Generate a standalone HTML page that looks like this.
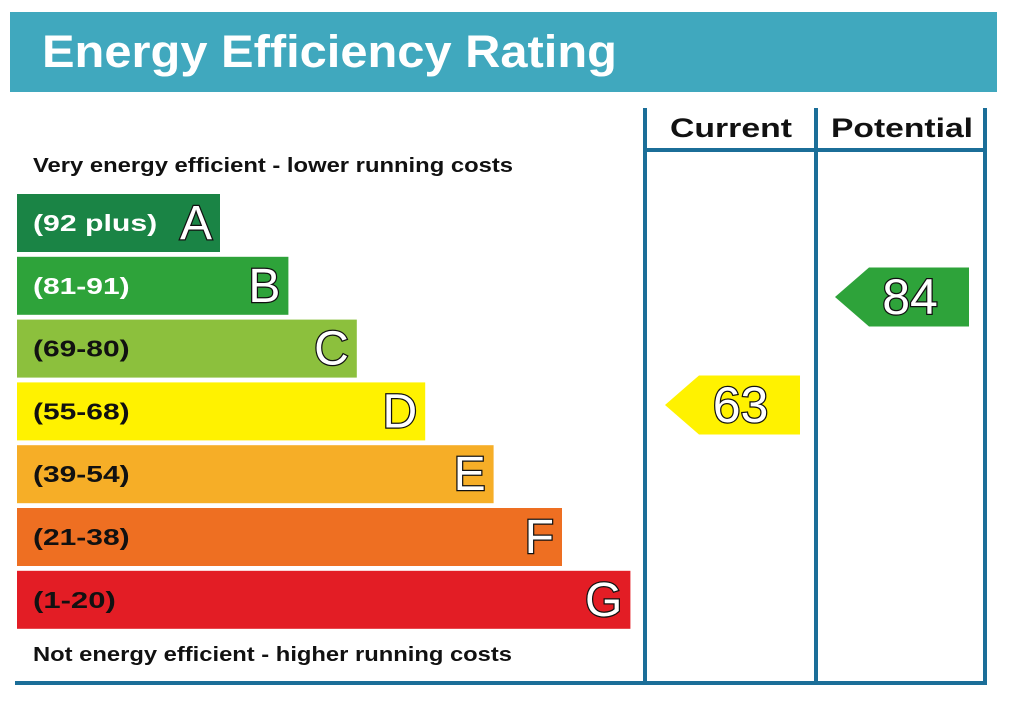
<!DOCTYPE html>
<html><head><meta charset="utf-8"><style>
html,body{margin:0;padding:0;background:#fff;width:1024px;height:713px;overflow:hidden}
svg{display:block;font-family:"Liberation Sans",sans-serif}
</style></head><body>
<svg id="c" width="1024" height="713" viewBox="0 0 1024 713">
<rect x="10" y="12" width="987" height="80" fill="#40a8be"/>
<text x="42" y="67" font-size="45" font-weight="bold" fill="#fff" textLength="575" lengthAdjust="spacingAndGlyphs">Energy Efficiency Rating</text>
<g stroke="#1b6e98" stroke-width="4" fill="none">
<line x1="645" y1="108" x2="645" y2="683"/>
<line x1="816" y1="108" x2="816" y2="683"/>
<line x1="985" y1="108" x2="985" y2="683"/>
<line x1="645" y1="150" x2="985" y2="150"/>
<line x1="15" y1="683" x2="987" y2="683"/>
</g>
<text x="670" y="137" font-size="27" font-weight="bold" fill="#111" textLength="122" lengthAdjust="spacingAndGlyphs">Current</text>
<text x="831" y="137" font-size="27" font-weight="bold" fill="#111" textLength="142" lengthAdjust="spacingAndGlyphs">Potential</text>
<text x="33" y="172" font-size="20" font-weight="bold" fill="#111" textLength="480" lengthAdjust="spacingAndGlyphs">Very energy efficient - lower running costs</text>
<text x="33" y="661" font-size="20" font-weight="bold" fill="#111" textLength="479" lengthAdjust="spacingAndGlyphs">Not energy efficient - higher running costs</text>
<g id="bars"></g>
<g id="arrows"></g>
</svg>
<script>
const bands=["A","B","C","D","E","F","G"];
const ranges=["(92 plus)","(81-91)","(69-80)","(55-68)","(39-54)","(21-38)","(1-20)"];
const mins=[92,81,69,55,39,21,1];
const colors=["#1a8445","#2ea33a","#8cc03d","#fff200","#f6ae27","#ee6f22","#e31d25"];
const currentValue=63;
const potentialValue=84;
const NS="http://www.w3.org/2000/svg";
const x0=17,y0=194,step=62.8,bh=58,w0=203,wStep=68.4;
function bandIndex(v){for(let i=0;i<mins.length;i++){if(v>=mins[i])return i;}return 6;}
function yOf(v){return 297+(84-v)*5.14;}
function mk(t,a){const e=document.createElementNS(NS,t);for(const k in a)e.setAttribute(k,a[k]);return e;}
const bg=document.getElementById('bars');
bands.forEach((b,i)=>{
  const y=y0+i*step,w=w0+i*wStep;
  const r=mk('rect',{x:x0,y:y,width:w,height:bh,fill:colors[i]});
  
  
  bg.appendChild(r);
  const tl=ranges[i].length*13.8;
  const t=mk('text',{x:33,y:y+bh/2+8,'font-size':23,'font-weight':'bold',fill:i<2?'#fff':'#111',textLength:tl,lengthAdjust:'spacingAndGlyphs'});
  t.textContent=ranges[i];
  
  
  bg.appendChild(t);
  const l=mk('text',{x:x0+w-8,y:y+bh/2+16,'font-size':48,'text-anchor':'end',fill:'#fff',stroke:'#111','stroke-width':2.5,'paint-order':'stroke'});
  l.textContent=b;
  
  
  bg.appendChild(l);
});
const ag=document.getElementById('arrows');
function arrow(v,tip,right,name){
  const i=bandIndex(v),h=59,y=yOf(v)-h/2;
  const p=mk('polygon',{points:`${tip},${y+h/2} ${tip+34},${y} ${right},${y} ${right},${y+h} ${tip+34},${y+h}`,fill:colors[i]});
  
  
  ag.appendChild(p);
  const t=mk('text',{x:(tip+right)/2+8,y:y+h/2+17,'font-size':50,'text-anchor':'middle',fill:'#fff',stroke:'#111','stroke-width':2.5,'paint-order':'stroke'});
  t.textContent=v;
  
  
  ag.appendChild(t);
}
arrow(currentValue,665,800,'current');
arrow(potentialValue,835,969,'potential');
</script>
</body></html>
